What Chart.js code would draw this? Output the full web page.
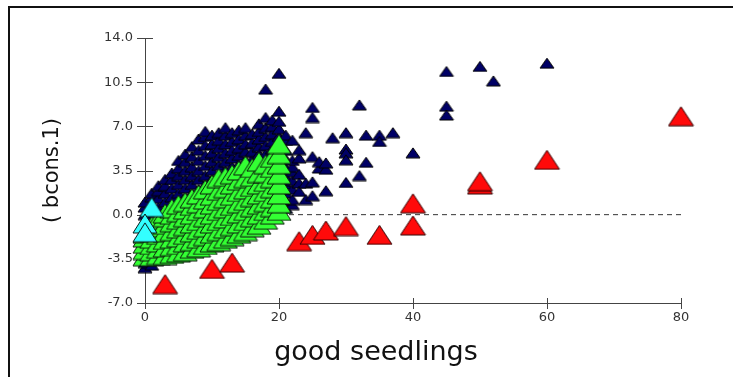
<!DOCTYPE html>
<html>
<head>
<meta charset="utf-8">
<script src="https://cdn.jsdelivr.net/npm/chart.js@4.4.0/dist/chart.umd.min.js"></script>
<style>
html,body{margin:0;padding:0;background:#fff;}
#wrap{width:733px;height:377px;position:relative;}
</style>
</head>
<body>
<div id="wrap"><canvas id="c" width="733" height="377"></canvas></div>
<script>
// ---- data ----
const xTicks = [0, 20, 40, 60, 80];
const yTicks = [-7.0, -3.5, 0.0, 3.5, 7.0, 10.5, 14.0];
const xTitle = 'good seedlings';
const yTitle = '( bcons.1)';

const navyPoints = [
 [0,-4.2],[0,-3.8],[0,-0.8],[0,0.0],[0,0.6],[0,1.0],
 [1,-4.0],[1,0.2],[1,0.8],[1,1.4],[1,1.7],
 [2,-0.2],[2,0.6],[2,1.3],[2,1.9],[2,2.3],
 [3,0.3],[3,1.0],[3,1.7],[3,2.3],[3,2.8],
 [4,0.7],[4,1.4],[4,2.1],[4,2.8],[4,3.3],
 [5,1.0],[5,1.7],[5,2.4],[5,3.1],[5,3.7],[5,4.3],
 [6,1.4],[6,2.1],[6,2.8],[6,3.5],[6,4.2],[6,4.8],
 [7,1.7],[7,2.4],[7,3.1],[7,3.8],[7,4.6],[7,5.4],
 [8,2.0],[8,2.8],[8,3.5],[8,4.3],[8,5.1],[8,6.0],
 [9,2.4],[9,3.1],[9,3.9],[9,4.7],[9,5.5],[9,6.2],[9,6.6],
 [10,2.8],[10,3.5],[10,4.2],[10,4.9],[10,5.6],[10,6.3],
 [11,3.2],[11,3.9],[11,4.6],[11,5.3],[11,5.9],[11,6.5],
 [12,3.5],[12,4.2],[12,4.9],[12,5.6],[12,6.3],[12,6.9],
 [13,3.8],[13,4.5],[13,5.1],[13,5.8],[13,6.5],
 [14,4.0],[14,4.7],[14,5.3],[14,6.0],[14,6.7],
 [15,4.3],[15,5.0],[15,5.6],[15,6.3],[15,6.9],
 [16,4.4],[16,5.0],[16,5.7],[16,6.4],
 [17,4.8],[17,5.4],[17,6.0],[17,6.6],[17,7.2],
 [18,4.8],[18,5.5],[18,6.2],[18,6.9],[18,7.7],[18,9.95],
 [19,5.2],[19,5.8],[19,6.4],[19,7.0],[19,7.5],
 [20,1.0],[20,2.0],[20,3.0],[20,4.0],[20,5.0],[20,5.6],[20,6.2],[20,6.8],[20,7.4],[20,8.2],[20,11.2],
 [21,0.5],[21,1.1],[21,1.7],[21,2.4],[21,3.0],[21,3.7],[21,4.4],[21,5.1],[21,5.9],[21,6.3],
 [22,0.8],[22,1.2],[22,2.0],[22,2.7],[22,3.4],[22,3.8],[22,4.3],[22,5.9],
 [23,4.5],[23,3.2],[23,2.5],[23,5.15],[23,1.85],[24,6.5],[24,1.2],[24,2.5],
 [25,8.5],[25,7.7],[25,4.6],[25,2.6],[25,1.5],[26,3.7],[26,4.2],
 [27,1.9],[27,3.6],[27,4.1],[28,6.1],[30,6.5],[30,5.2],[30,4.9],[30,4.35],[30,2.55],
 [32,8.7],[32,3.1],[33,6.3],[33,4.15],[35,6.3],[35,5.8],[37,6.5],[40,4.9],
 [45,11.35],[45,8.6],[45,7.9],[50,11.75],[52,10.6],[60,12.0]
];

const greenPoints = [
 [0,-3.3],[0,-2.8],[0,-2.3],[0,-1.8],[0,-1.5],
 [1,-3.3],[1,-2.9],[1,-2.4],[1,-1.9],[1,-1.4],[1,-0.9],
 [2,-3.2],[2,-2.7],[2,-2.2],[2,-1.6],[2,-1.0],[2,-0.4],
 [3,-3.2],[3,-2.6],[3,-2.0],[3,-1.4],[3,-0.8],[3,-0.2],[3,0.1],
 [4,-3.1],[4,-2.5],[4,-1.9],[4,-1.3],[4,-0.6],[4,0.0],[4,0.5],
 [5,-3.0],[5,-2.4],[5,-1.8],[5,-1.1],[5,-0.4],[5,0.2],[5,0.8],
 [6,-2.9],[6,-2.2],[6,-1.6],[6,-0.9],[6,-0.2],[6,0.4],[6,1.0],
 [7,-2.7],[7,-2.1],[7,-1.4],[7,-0.7],[7,0.0],[7,0.7],[7,1.3],
 [8,-2.6],[8,-1.9],[8,-1.2],[8,-0.5],[8,0.3],[8,0.9],[8,1.6],
 [9,-2.4],[9,-1.7],[9,-1.0],[9,-0.2],[9,0.5],[9,1.2],[9,2.0],
 [10,-2.2],[10,-1.5],[10,-0.7],[10,0.0],[10,0.8],[10,1.5],[10,2.4],
 [11,-2.1],[11,-1.3],[11,-0.5],[11,0.3],[11,1.1],[11,1.9],[11,2.9],
 [12,-1.9],[12,-1.1],[12,-0.3],[12,0.5],[12,1.3],[12,2.1],[12,3.0],
 [13,-1.7],[13,-0.9],[13,-0.1],[13,0.7],[13,1.5],[13,2.4],[13,3.2],
 [14,-1.5],[14,-0.7],[14,0.1],[14,0.9],[14,1.8],[14,2.7],[14,3.5],
 [15,-1.3],[15,-0.5],[15,0.3],[15,1.1],[15,2.0],[15,2.9],[15,3.9],
 [16,-1.0],[16,-0.2],[16,0.6],[16,1.4],[16,2.2],[16,3.0],[16,3.7],
 [17,-0.8],[17,0.0],[17,0.8],[17,1.6],[17,2.4],[17,3.3],[17,4.2],
 [18,-0.4],[18,0.3],[18,1.0],[18,1.8],[18,2.6],[18,3.3],[18,4.0],
 [19,0.0],[19,0.6],[19,1.3],[19,2.1],[19,2.9],[19,3.7],[19,4.5],
 [20,0.3],[20,0.9],[20,1.6],[20,2.4],[20,3.2],[20,4.0],[20,4.8],[20,5.6]
];

const cyanPoints = [[1,0.6],[0,-0.7],[0,-1.4]];

const redPoints = [
 [3,-5.5],[10,-4.3],[13,-3.8],[23,-2.1],[25,-1.6],[27,-1.25],[30,-0.9],
 [35,-1.6],[40,-0.85],[40,0.9],[50,2.4],[50,2.65],[60,4.35],[80,7.8]
];

const refLine = [[0,0],[80,0]];

// ---- helpers ----
function toXY(arr){ return arr.map(p => ({x:p[0], y:p[1]})); }
function makeTri(w, h, fill, stroke){
  const c = document.createElement('canvas');
  c.width = w + 2; c.height = h + 2;
  const g = c.getContext('2d');
  g.beginPath();
  g.moveTo(c.width/2, 1);
  g.lineTo(w + 1, h + 1);
  g.lineTo(1, h + 1);
  g.closePath();
  g.fillStyle = fill; g.fill();
  g.lineWidth = 1; g.strokeStyle = stroke; g.stroke();
  return c;
}
const navyTri = makeTri(14, 10, '#000066', '#000000');
const greenTri = makeTri(24, 19, '#33ff33', '#0a1a0a');
const cyanTri = makeTri(24, 19, '#33ffff', '#0a1a1a');
const redTri = makeTri(25, 19, '#ff0a0a', '#300000');

const framePlugin = {
  id: 'frame',
  beforeDraw(chart){
    const ctx = chart.ctx;
    ctx.save();
    ctx.fillStyle = '#ffffff';
    ctx.fillRect(0, 0, chart.width, chart.height);
    ctx.fillStyle = '#111111';
    ctx.fillRect(8, 6, chart.width - 8, 2);
    ctx.fillRect(8, 6, 2, chart.height - 6);
    ctx.restore();
  },
  afterDraw(chart){
    const ctx = chart.ctx;
    ctx.save();
    ctx.font = '27px "DejaVu Sans"';
    ctx.fillStyle = '#111';
    ctx.textAlign = 'center';
    ctx.textBaseline = 'alphabetic';
    ctx.fillText(xTitle, 376, 360);
    ctx.restore();
  }
};
const crossTicks = {
  id: 'crossTicks',
  beforeDatasetsDraw(chart){
    const ctx = chart.ctx, xs = chart.scales.x, ys = chart.scales.y;
    const ax = xs.getPixelForValue(0), ay = ys.getPixelForValue(-7);
    ctx.save();
    ctx.strokeStyle = '#444'; ctx.lineWidth = 1;
    ctx.beginPath();
    yTicks.forEach(v => { const p = Math.round(ys.getPixelForValue(v)) + 0.5; ctx.moveTo(ax - 8, p); ctx.lineTo(ax + 8, p); });
    xTicks.forEach(v => { const p = Math.round(xs.getPixelForValue(v)) + 0.5; ctx.moveTo(p, ay - 5); ctx.lineTo(p, ay + 6); });
    ctx.stroke();
    ctx.restore();
  }
};

const tickFont = {family: 'DejaVu Sans', size: 13};
new Chart(document.getElementById('c'), {
  type: 'scatter',
  data: {
    datasets: [
      {label:'red', data: toXY(redPoints), pointStyle: redTri, pointRadius: 10, order: 1, clip: false},
      {label:'cyan', data: toXY(cyanPoints), pointStyle: cyanTri, pointRadius: 10, order: 2, clip: false},
      {label:'green', data: toXY(greenPoints), pointStyle: greenTri, pointRadius: 10, order: 3, clip: false},
      {label:'navy', data: toXY(navyPoints), pointStyle: navyTri, pointRadius: 6, order: 4, clip: false},
      {label:'zero', data: toXY(refLine), showLine: true, pointRadius: 0, borderColor: '#333', borderWidth: 1, borderDash: [5,4], order: 5}
    ]
  },
  options: {
    responsive: false,
    animation: false,
    events: [],
    layout: {padding: {left: 0, top: 38, right: 52, bottom: 0}},
    plugins: {legend: {display: false}, tooltip: {enabled: false}},
    scales: {
      x: {
        type: 'linear', min: 0, max: 80,
        afterFit(s){ s.height = 74; },
        afterBuildTicks(s){ s.ticks = xTicks.map(v => ({value: v})); },
        grid: {display: true, drawOnChartArea: false, drawTicks: false},
        border: {display: true, color: '#444', width: 1},
        ticks: {font: tickFont, color: '#333', padding: 7, maxRotation: 0},
        title: {display: false}
      },
      y: {
        type: 'linear', min: -7, max: 14,
        afterFit(s){ s.width = 145; },
        afterBuildTicks(s){ s.ticks = yTicks.map(v => ({value: v})); },
        grid: {display: true, drawOnChartArea: false, drawTicks: false},
        border: {display: true, color: '#444', width: 1},
        ticks: {font: tickFont, color: '#333', padding: 12, callback: v => Number(v).toFixed(1)},
        title: {display: true, text: yTitle, font: {family: 'DejaVu Sans', size: 21}, color: '#111', padding: {top: 40, bottom: 0}}
      }
    }
  },
  plugins: [framePlugin, crossTicks]
});
</script>
</body>
</html>
